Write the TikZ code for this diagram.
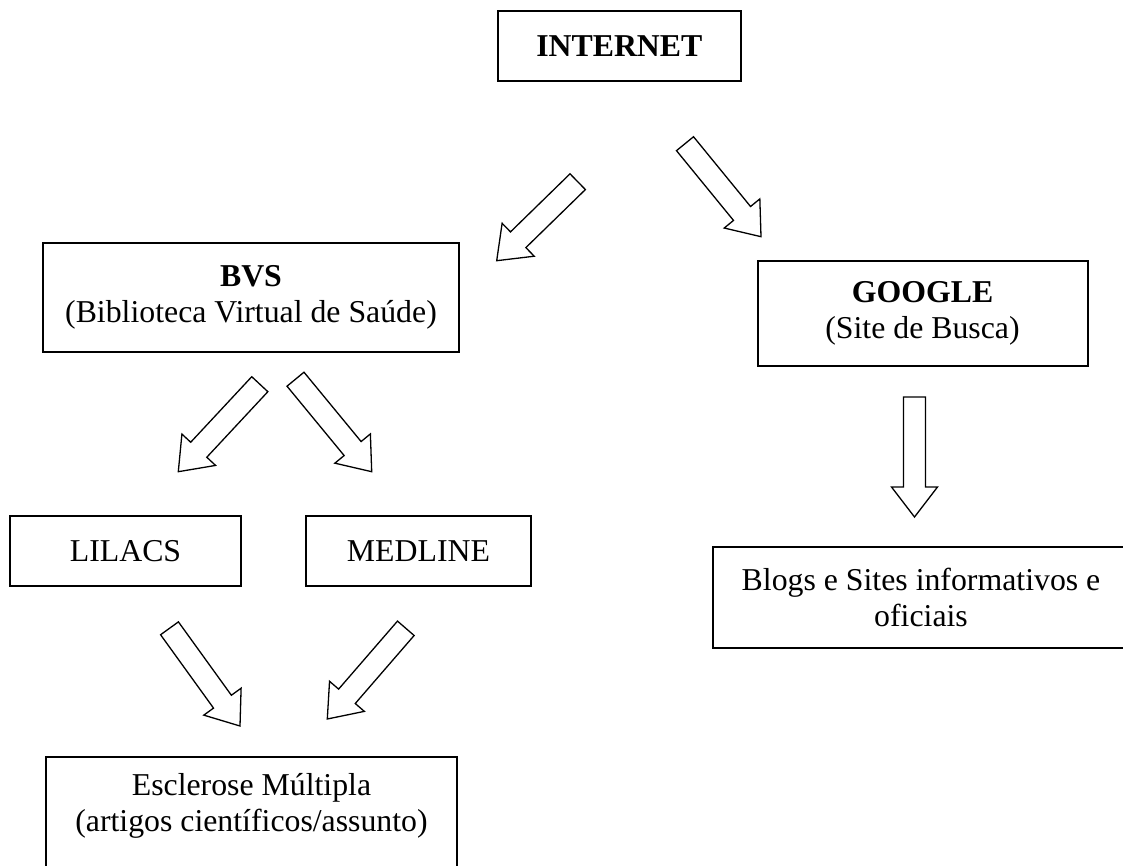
\documentclass[tikz,border=0pt]{standalone}
\usepackage{fontspec}
\setmainfont{Liberation Serif}
\usetikzlibrary{calc,positioning}
\tikzset{caixa/.style={draw,line width=2pt,align=center,inner sep=0pt,
  font=\fontsize{31.8}{36.5}\selectfont},
  seta/.style={line width=1.3pt}}
\newcommand{\setaoca}[2]{%
  \path ($(#2)!30pt!(#1)$) coordinate (sq);
  \draw[seta] ($(#1)!11pt!90:(#2)$) -- ($(sq)!11pt!90:(#2)$)
    -- ($(sq)!23pt!90:(#2)$) -- (#2) -- ($(sq)!23pt!-90:(#2)$)
    -- ($(sq)!11pt!-90:(#2)$) -- ($(#1)!11pt!-90:(#2)$) -- cycle;}

\begin{document}
\begin{tikzpicture}[x=1pt,y=-1pt]
\useasboundingbox (0,0) rectangle (1123,866);
\node[caixa,minimum width=243.5pt,minimum height=70.3pt] (internet) at (619.3,45.8) {\textbf{INTERNET}};
\node[caixa,minimum width=416pt,minimum height=109pt] (bvs) at (251,297.5) {\textbf{BVS}\\(Biblioteca Virtual de Saúde)};
\node[caixa,minimum width=330pt,minimum height=105pt] (google) at (922.5,313.5) {\textbf{GOOGLE}\\(Site de Busca)};
\node[caixa,minimum width=231pt,minimum height=70pt] (lilacs) at (125.5,550.7) {LILACS};
\node[caixa,minimum width=225pt,minimum height=70pt] (medline) at (418.5,550.7) {MEDLINE};
\node[caixa,minimum width=416pt,minimum height=101.3pt] (blogs) at (921,597.3) {Blogs e Sites informativos e\\oficiais};
\node[caixa,draw=none] (esclerose) at (251.5,806) {Esclerose Múltipla\\(artigos científicos/assunto)};
\draw[line width=2pt] ($(esclerose.center)+(-205.5,-49.3)$) rectangle ($(esclerose.center)+(205.5,70)$);

\coordinate (int-bvs-i) at (577.7,181.7);  \coordinate (int-bvs-f) at (496.7,260.7);
\coordinate (int-goo-i) at (685,143.7);    \coordinate (int-goo-f) at (761,236.7);
\coordinate (bvs-lil-i) at (259.8,384.2);  \coordinate (bvs-lil-f) at (178.3,471.7);
\coordinate (bvs-med-i) at (295.5,379.2);  \coordinate (bvs-med-f) at (371.7,471.7);
\coordinate (lil-esc-i) at (169.5,628.3);  \coordinate (lil-esc-f) at (240,726);
\coordinate (med-esc-i) at (405.8,628.3);  \coordinate (med-esc-f) at (327.3,719);
\coordinate (goo-blo-i) at (914.5,397);    \coordinate (goo-blo-f) at (914.5,517);
\foreach \s in {int-bvs,int-goo,bvs-lil,bvs-med,lil-esc,med-esc,goo-blo}
  \setaoca{\s-i}{\s-f};
\end{tikzpicture}
\end{document}
